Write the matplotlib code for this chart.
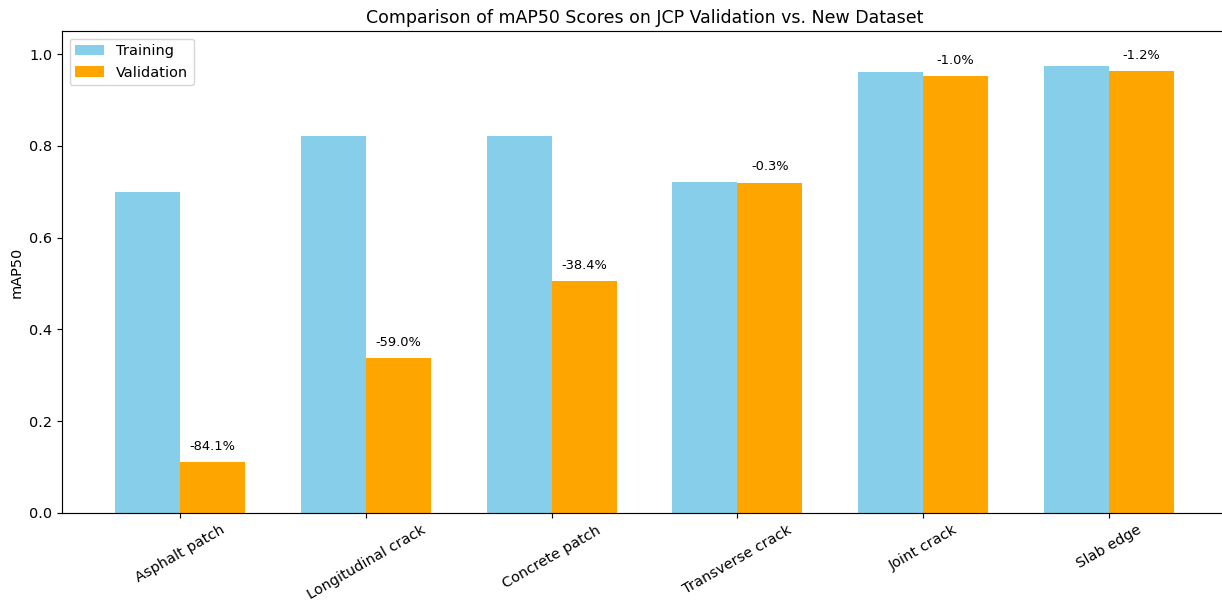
import numpy as np
import matplotlib
matplotlib.use('Agg')
import matplotlib.pyplot as plt

classes = ['Asphalt patch', 'Longitudinal crack', 'Concrete patch',
           'Transverse crack', 'Joint crack', 'Slab edge']
train_map50 = [0.699, 0.822, 0.822, 0.722, 0.962, 0.975]
val_map50 = [0.111, 0.337, 0.506, 0.720, 0.952, 0.963]

x = np.arange(len(classes))
width = 0.35

dpi = 104
fig, ax = plt.subplots(figsize=(1222 / dpi, 602 / dpi), dpi=dpi)
ax.bar(x - width / 2, train_map50, width, label='Training', color='skyblue')
ax.bar(x + width / 2, val_map50, width, label='Validation', color='orange')

# percentage change from training to validation above each validation bar
for i, (t, v) in enumerate(zip(train_map50, val_map50)):
    change = (v - t) / t * 100
    ax.text(x[i] + width / 2, v + 0.02, f'{change:.1f}%',
            ha='center', va='bottom', fontsize=9)

ax.set_ylabel('mAP50')
ax.set_title('Comparison of mAP50 Scores on JCP Validation vs. New Dataset')
ax.set_xticks(x)
ax.set_xticklabels(classes, rotation=30)
ax.set_ylim(0, 1.05)
ax.legend(loc='upper left')
fig.subplots_adjust(left=0.051, right=1.004, top=0.948, bottom=0.148)
plt.savefig('out.png')
